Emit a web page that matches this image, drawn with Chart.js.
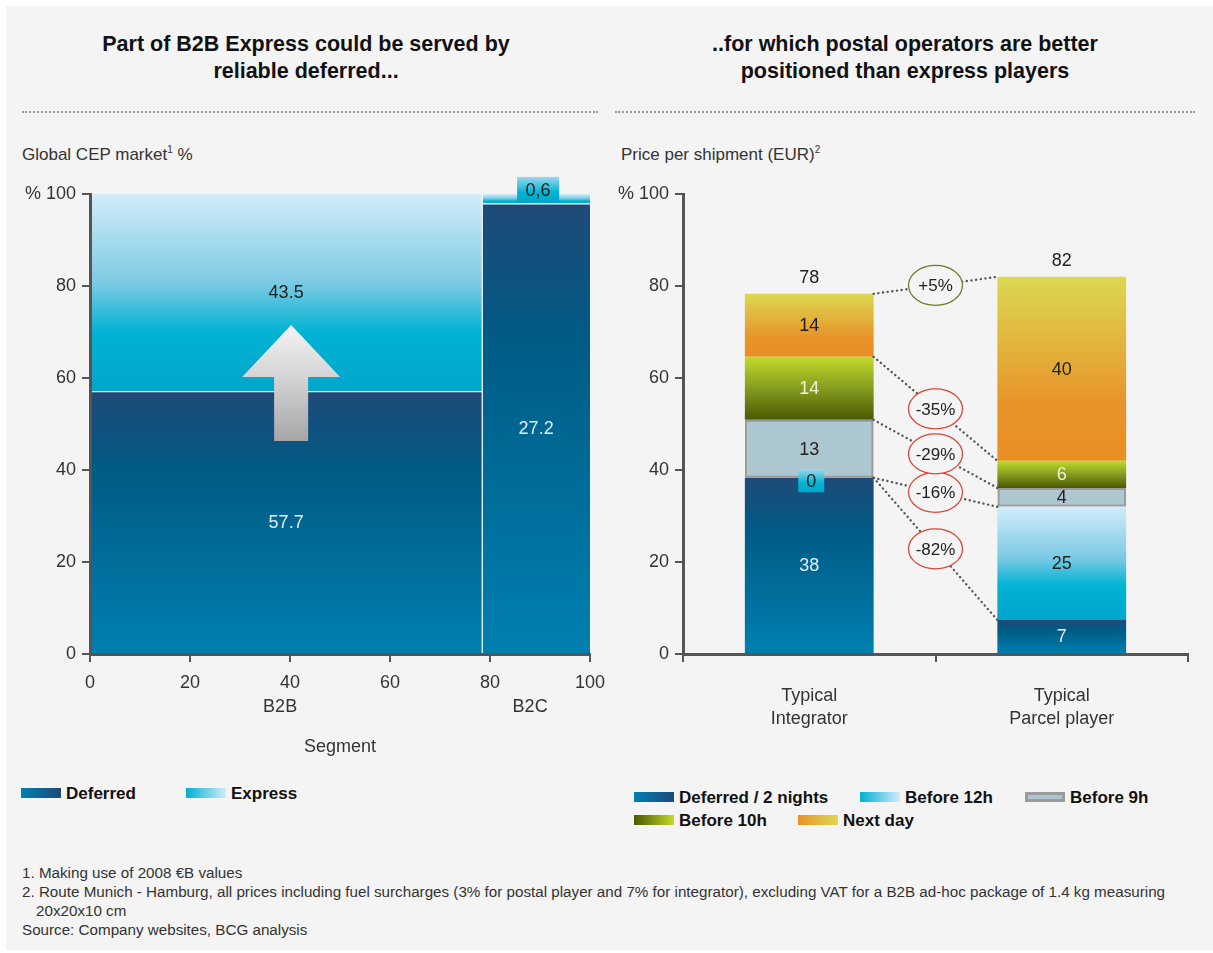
<!DOCTYPE html>
<html>
<head>
<meta charset="utf-8">
<script src="https://cdn.jsdelivr.net/npm/chart.js@4.4.1/dist/chart.umd.min.js"></script>
<style>
  body { margin: 0; background: #fff; font-family: "Liberation Sans", Arial, sans-serif; color: #222; }
  #page { position: absolute; left: 6px; top: 6px; width: 1207px; height: 944px; background: #f4f4f4; }
  .title { position: absolute; top: 31px; width: 560px; font-weight: bold; font-size: 21.5px; line-height: 27px; text-align: center; color: #111; }
  .sep { position: absolute; top: 111px; height: 0; border-top: 2px dotted #9a9a9a; }
  .sub { position: absolute; top: 144px; font-size: 17px; color: #333; }
  .sub sup { font-size: 10px; }
  canvas { position: absolute; }
  .leg { position: absolute; font-weight: bold; font-size: 17px; color: #111; white-space: nowrap; }
  .sw { display: inline-block; width: 40px; height: 10px; margin-right: 5px; vertical-align: 1px; box-sizing: border-box; }
  .notes { position: absolute; left: 22px; top: 863px; font-size: 15.2px; line-height: 19px; color: #333; }
  .notes .ind { padding-left: 14px; }
</style>
</head>
<body>
<div id="page"></div>

<div class="title" style="left:26px">Part of B2B Express could be served by<br>reliable deferred...</div>
<div class="title" style="left:625px">..for which postal operators are better<br>positioned than express players</div>
<div class="sep" style="left:22px; width:576px"></div>
<div class="sep" style="left:615px; width:580px"></div>

<div class="sub" style="left:22px">Global CEP market<sup>1</sup> %</div>
<div class="sub" style="left:621px">Price per shipment (EUR)<sup>2</sup></div>

<canvas id="mekko" width="610" height="600" style="left:6px; top:170px"></canvas>
<canvas id="prices" width="600" height="600" style="left:600px; top:170px"></canvas>

<div class="leg" style="left:21px; top:784px"><span class="sw" style="background:linear-gradient(to right,#0080b0,#1f4a78)"></span>Deferred</div>
<div class="leg" style="left:186px; top:784px"><span class="sw" style="background:linear-gradient(to right,#00b0d0,#d2ecfa)"></span>Express</div>

<div class="leg" style="left:634px; top:788px"><span class="sw" style="background:linear-gradient(to right,#0080b0,#1f4a78)"></span>Deferred / 2 nights</div>
<div class="leg" style="left:860px; top:788px"><span class="sw" style="background:linear-gradient(to right,#00b0d0,#d2ecfa)"></span>Before 12h</div>
<div class="leg" style="left:1025px; top:788px"><span class="sw" style="background:#adc7d1; border:3px solid #9b9b9b"></span>Before 9h</div>
<div class="leg" style="left:634px; top:811px"><span class="sw" style="background:linear-gradient(to right,#4a5800,#c5da2b)"></span>Before 10h</div>
<div class="leg" style="left:798px; top:811px"><span class="sw" style="background:linear-gradient(to right,#e8922a,#dcd852)"></span>Next day</div>

<div class="notes">
  1. Making use of 2008 €B values<br>
  2. Route Munich - Hamburg, all prices including fuel surcharges (3% for postal player and 7% for integrator), excluding VAT for a B2B ad-hoc package of 1.4 kg measuring<br>
  <span class="ind">20x20x10 cm</span><br>
  Source: Company websites, BCG analysis
</div>

<script>
// left chart: market size in EUR bn per segment
const segments = ['B2B', 'B2C'];
const deferredValues = [57.7, 27.2];
const expressValues = [43.5, 0.6];

// right chart: price per shipment, stacked by service level
const carriers = [['Typical', 'Integrator'], ['Typical', 'Parcel player']];
const deferred2Nights = [38.3, 7.4];
const before12h = [0, 24.6];
const before9h = [12.6, 4.1];
const before10h = [13.7, 5.9];
const nextDay = [13.7, 40];
const changeLabels = ['-82%', '-16%', '-29%', '-35%', '+5%'];

Chart.defaults.font.family = '"Liberation Sans", Arial, sans-serif';
Chart.defaults.color = '#333';

const deferredStops = [[0, '#204a78'], [0.3, '#005b86'], [1, '#0080b0']];
const expressStops = [[0, '#d2ecfa'], [0.45, '#7ccae3'], [0.7, '#00b3d3'], [1, '#00a6cb']];
const tenStops = [[0, '#c5da2b'], [0.5, '#849c20'], [1, '#4a5a02']];
const nextStops = [[0, '#dcd852'], [0.7, '#e8932a'], [1, '#e88f24']];

function grad(ctx, y0, y1, stops) {
  const g = ctx.createLinearGradient(0, y0, 0, y1);
  stops.forEach(s => g.addColorStop(s[0], s[1]));
  return g;
}

function boxedLabel(ctx, text, cx, cy, w, h) {
  ctx.fillStyle = grad(ctx, cy - h / 2, cy + h / 2, [[0, '#9ad8ec'], [0.6, '#00b3d3'], [1, '#00a6cb']]);
  ctx.fillRect(cx - w / 2, cy - h / 2, w, h);
  ctx.fillStyle = '#222';
  ctx.fillText(text, cx, cy + 1);
}

function axisStyle(extra) {
  return Object.assign({
    border: { color: '#555', width: 3 },
    grid: { drawOnChartArea: false, tickLength: 8, color: '#555', lineWidth: 2 },
  }, extra);
}

// ---- mekko chart -------------------------------------------------------
function mekkoColumns(chart) {
  const x = chart.scales.x, y = chart.scales.y;
  const totals = segments.map((s, i) => deferredValues[i] + expressValues[i]);
  const grand = totals.reduce((a, b) => a + b, 0);
  let start = 0;
  return segments.map((s, i) => {
    const w = totals[i] / grand * 100;
    const split = deferredValues[i] / totals[i] * 100;
    const col = {
      left: x.getPixelForValue(start), right: x.getPixelForValue(start + w),
      top: y.getPixelForValue(100), split: y.getPixelForValue(split), base: y.getPixelForValue(0)
    };
    start += w;
    return col;
  });
}

const mekkoPlugin = {
  id: 'mekko',
  beforeDraw(chart) {
    const ctx = chart.ctx;
    const y = chart.scales.y;
    const cols = mekkoColumns(chart);
    ctx.save();
    cols.forEach(c => {
      ctx.fillStyle = grad(ctx, c.split, c.base, deferredStops);
      ctx.fillRect(c.left, c.split, c.right - c.left, c.base - c.split);
      ctx.fillStyle = grad(ctx, c.top, c.split, expressStops);
      ctx.fillRect(c.left, c.top, c.right - c.left, c.split - c.top);
      ctx.strokeStyle = '#ffffff';
      ctx.lineWidth = 1.2;
      ctx.beginPath();
      ctx.moveTo(c.left, c.split); ctx.lineTo(c.right, c.split);
      ctx.stroke();
    });
    // column divider
    ctx.beginPath();
    ctx.moveTo(cols[1].left, cols[1].top); ctx.lineTo(cols[1].left, cols[1].base);
    ctx.stroke();

    // up arrow inside B2B
    const c = cols[0];
    const cx = (c.left + c.right) / 2 + 5;
    const tip = y.getPixelForValue(71.5), neck = y.getPixelForValue(60.2), foot = y.getPixelForValue(46.3);
    ctx.fillStyle = grad(ctx, tip, foot, [[0, '#f4f4f4'], [0.45, '#d4d4d6'], [1, '#a6a6a9']]);
    ctx.beginPath();
    ctx.moveTo(cx, tip);
    ctx.lineTo(cx + 49, neck); ctx.lineTo(cx + 17, neck); ctx.lineTo(cx + 17, foot);
    ctx.lineTo(cx - 17, foot); ctx.lineTo(cx - 17, neck); ctx.lineTo(cx - 49, neck);
    ctx.closePath();
    ctx.fill();
    ctx.restore();
  },
  afterDraw(chart) {
    const ctx = chart.ctx;
    const cols = mekkoColumns(chart);
    ctx.save();
    ctx.font = '18px "Liberation Sans", Arial, sans-serif';
    ctx.textAlign = 'center';
    ctx.textBaseline = 'middle';
    cols.forEach((c, i) => {
      const cx = (c.left + c.right) / 2;
      ctx.fillStyle = '#e3eff6';
      ctx.fillText(String(deferredValues[i]), cx, (c.split + c.base) / 2);
      if (c.split - c.top > 30) {
        ctx.fillStyle = '#222';
        ctx.fillText(String(expressValues[i]), cx, (c.top + c.split) / 2);
      } else {
        boxedLabel(ctx, String(expressValues[i]).replace('.', ','), cx + 2, c.split - 14, 42, 26);
      }
      ctx.fillStyle = '#333';
      ctx.fillText(segments[i], cx - 6, c.base + 53);
    });
    ctx.restore();
  }
};

new Chart(document.getElementById('mekko'), {
  type: 'scatter',
  data: { datasets: [] },
  options: {
    responsive: false,
    animation: false,
    layout: { padding: { top: 24, right: 26, bottom: 12, left: 0 } },
    plugins: { legend: { display: false }, tooltip: { enabled: false } },
    scales: {
      x: axisStyle({
        type: 'linear', min: 0, max: 100,
        ticks: { stepSize: 20, padding: 10, color: '#333', font: { size: 18 } },
        title: { display: true, text: 'Segment', color: '#333', font: { size: 18 }, padding: 0 },
        afterFit: s => { s.height = 104; }
      }),
      y: axisStyle({
        type: 'linear', min: 0, max: 100,
        ticks: { stepSize: 20, padding: 6, color: '#333', font: { size: 18 },
          callback: v => v === 100 ? '% 100' : v },
        afterFit: s => { s.width = 84; }
      })
    }
  },
  plugins: [mekkoPlugin]
});

// ---- stacked price chart -----------------------------------------------
function stackGradient(stops) {
  return ctx => {
    const chart = ctx.chart;
    if (!chart.chartArea || ctx.type !== 'data') return stops[stops.length - 1][1];
    const ds = chart.data.datasets;
    let lo = 0;
    for (let d = 0; d < ctx.datasetIndex; d++) lo += ds[d].data[ctx.dataIndex];
    const hi = lo + ds[ctx.datasetIndex].data[ctx.dataIndex];
    const y0 = chart.scales.y.getPixelForValue(hi), y1 = chart.scales.y.getPixelForValue(lo);
    if (y1 - y0 < 1) return stops[stops.length - 1][1];
    return grad(chart.ctx, y0, y1, stops);
  };
}

const labelColors = ['#e3eff6', '#222', '#222', '#eef3d8', '#222'];

const pricePlugin = {
  id: 'priceLabels',
  afterDatasetsDraw(chart) {
    const ctx = chart.ctx;
    const metas = chart.data.datasets.map((d, i) => chart.getDatasetMeta(i));
    ctx.save();
    ctx.textAlign = 'center';
    ctx.textBaseline = 'middle';

    // comparison lines between the cumulative levels of both carriers
    metas.forEach((m, i) => {
      const a = m.data[0], b = m.data[1];
      const x0 = a.x + a.width / 2, y0 = a.y;
      const x1 = b.x - b.width / 2, y1 = b.y;
      ctx.strokeStyle = '#555';
      ctx.lineWidth = 2.4;
      ctx.lineCap = 'round';
      ctx.setLineDash([0.1, 4.6]);
      ctx.beginPath();
      ctx.moveTo(x0, y0); ctx.lineTo(x1, y1);
      ctx.stroke();
      ctx.setLineDash([]);
      const mx = (x0 + x1) / 2, my = (y0 + y1) / 2;
      ctx.beginPath();
      ctx.ellipse(mx, my, 27, 20, 0, 0, Math.PI * 2);
      ctx.fillStyle = '#f4f4f4';
      ctx.fill();
      ctx.lineWidth = 1.3;
      ctx.strokeStyle = changeLabels[i].startsWith('+') ? '#6b7b28' : '#d8473b';
      ctx.stroke();
      ctx.fillStyle = '#222';
      ctx.font = '17px "Liberation Sans", Arial, sans-serif';
      ctx.fillText(changeLabels[i], mx, my + 1);
    });

    // segment values
    ctx.font = '18px "Liberation Sans", Arial, sans-serif';
    metas.forEach((m, i) => {
      m.data.forEach((bar, j) => {
        const v = chart.data.datasets[i].data[j];
        const text = String(Math.round(v));
        if (bar.base - bar.y < 2) {
          boxedLabel(ctx, text, bar.x + 2, bar.base + 3, 26, 23);
        } else {
          ctx.fillStyle = labelColors[i];
          ctx.fillText(text, bar.x, (bar.y + bar.base) / 2 + 1);
        }
      });
    });

    // totals above each stack
    const top = metas[metas.length - 1];
    top.data.forEach((bar, j) => {
      const total = chart.data.datasets.reduce((s, d) => s + d.data[j], 0);
      ctx.fillStyle = '#222';
      ctx.fillText(String(Math.round(total)), bar.x, bar.y - 16);
    });
    ctx.restore();
  }
};

new Chart(document.getElementById('prices'), {
  type: 'bar',
  data: {
    labels: carriers,
    datasets: [
      { label: 'Deferred / 2 nights', data: deferred2Nights, backgroundColor: stackGradient(deferredStops) },
      { label: 'Before 12h', data: before12h, backgroundColor: stackGradient(expressStops) },
      { label: 'Before 9h', data: before9h, backgroundColor: '#adc7d1', borderColor: '#9b9b9b', borderWidth: 2.5, borderSkipped: false },
      { label: 'Before 10h', data: before10h, backgroundColor: stackGradient(tenStops) },
      { label: 'Next day', data: nextDay, backgroundColor: stackGradient(nextStops) }
    ]
  },
  options: {
    responsive: false,
    animation: false,
    layout: { padding: { top: 24, right: 12, bottom: 16, left: 0 } },
    datasets: { bar: { barPercentage: 0.51, categoryPercentage: 1 } },
    plugins: { legend: { display: false }, tooltip: { enabled: false } },
    scales: {
      x: axisStyle({
        stacked: true, z: 1,
        ticks: { padding: 22, color: '#333', font: { size: 18, lineHeight: 1.3 } },
        afterFit: s => { s.height = 100; }
      }),
      y: axisStyle({
        stacked: true, min: 0, max: 100, z: 1,
        ticks: { stepSize: 20, padding: 6, color: '#333', font: { size: 18 },
          callback: v => v === 100 ? '% 100' : v },
        afterFit: s => { s.width = 83; }
      })
    }
  },
  plugins: [pricePlugin]
});
</script>
</body>
</html>
